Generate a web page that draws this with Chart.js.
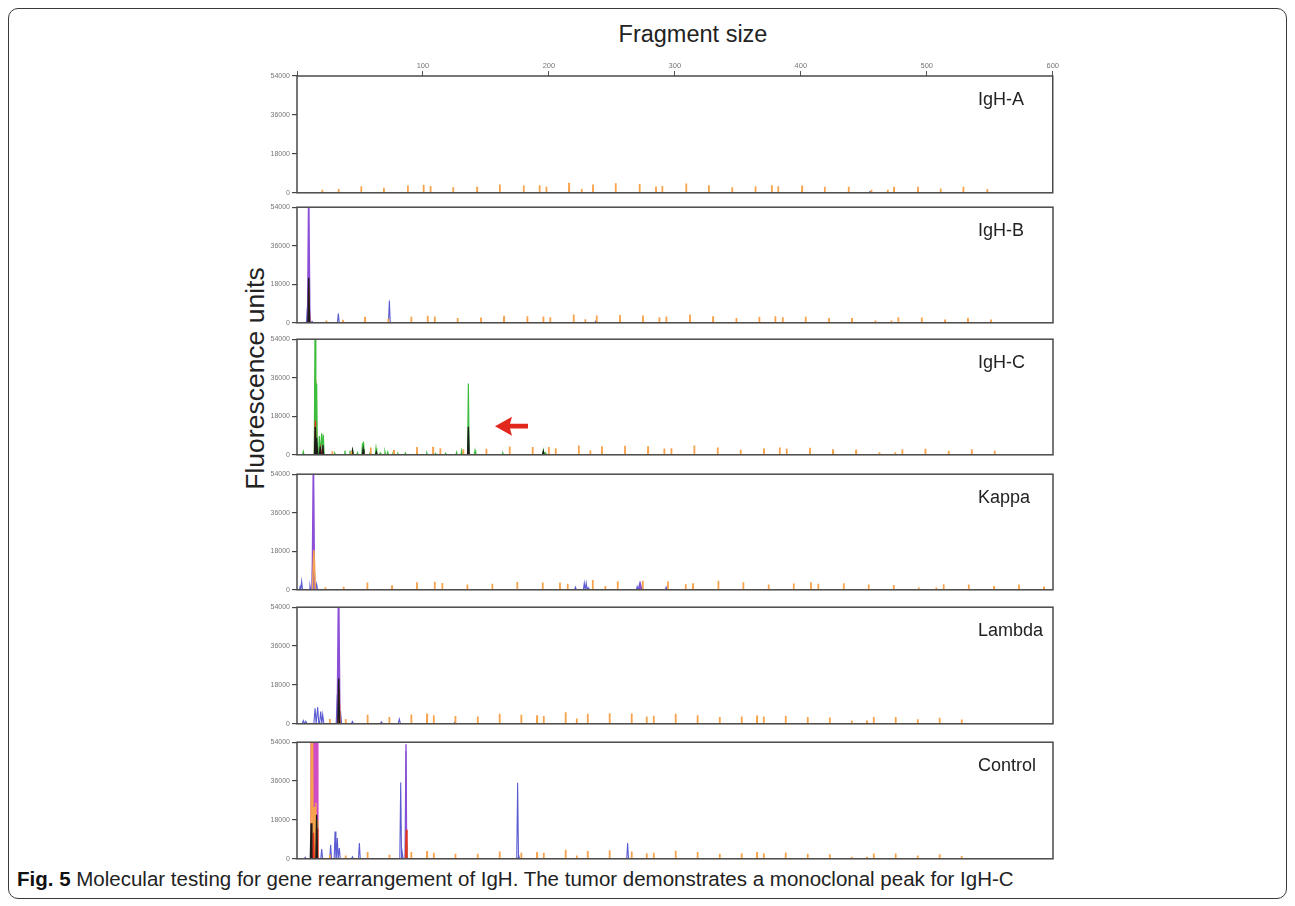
<!DOCTYPE html>
<html>
<head>
<meta charset="utf-8">
<script src="https://cdn.jsdelivr.net/npm/chart.js@4.4.1/dist/chart.umd.min.js"></script>
<style>
body{margin:0;background:#fff;width:1295px;height:906px;position:relative;overflow:hidden;font-family:'Liberation Sans',Arial,sans-serif;color:#222}
#frame{position:absolute;left:8px;top:8px;width:1279px;height:891px;border:1.5px solid #3a3a3a;border-radius:10px;box-sizing:border-box}
#title{position:absolute;left:593px;width:200px;top:21px;text-align:center;font-size:23.5px;color:#222}
#ylab{position:absolute;left:105px;top:363px;width:300px;text-align:center;font-size:26.5px;color:#222;transform:rotate(-90deg);white-space:nowrap}
#cap{position:absolute;left:17px;top:867px;font-size:20.5px;color:#222;white-space:nowrap}
#cap b{color:#111}
</style>
</head>
<body>
<div id="frame"></div>
<div id="title">Fragment size</div>
<div id="ylab">Fluorescence units</div>
<div id="cap"><b>Fig. 5</b> Molecular testing for gene rearrangement of IgH. The tumor demonstrates a monoclonal peak for IgH-C</div>
<script>
// ---- axes ----
const panelNames = ['IgH-A', 'IgH-B', 'IgH-C', 'Kappa', 'Lambda', 'Control'];
const sizeTicks = [0, 100, 200, 300, 400, 500, 600];
const rfuTicks = [0, 18000, 36000, 54000];

// ---- orange size standard (position, height) per panel ----
const stdPosA = [20, 33, 51, 69, 88, 100.5, 106, 124, 143, 161, 180, 192.6, 198, 216, 226, 235, 253, 272, 285, 290, 309, 327, 345.5, 364, 377, 382, 401, 419, 438, 456, 469, 474, 493, 511, 529, 548];
const stdHtA  = [1400, 1700, 3000, 2300, 3400, 3700, 3100, 2600, 2800, 3800, 3400, 3500, 2800, 4600, 1800, 3800, 4400, 4100, 2900, 3200, 4300, 3500, 2600, 3000, 3500, 3000, 3400, 2800, 2800, 1400, 1400, 2800, 2800, 2000, 2800, 1700];
const stdPosB = [23.3, 36.5, 54, 72.5, 90.7, 103.7, 109.3, 127.5, 146, 164.3, 182.8, 195.5, 201, 219.6, 228.8, 237.8, 256.3, 274.6, 287.6, 293.1, 311.9, 330.2, 348.7, 366.9, 379.6, 385.5, 403.7, 422.2, 440.5, 459, 471.7, 477.2, 495.8, 514.3, 532.5, 550.8];
const stdHtB  = [1100, 1400, 2800, 1900, 2800, 3300, 2900, 2300, 2500, 3300, 3100, 2900, 2600, 3900, 1700, 3400, 3700, 3400, 2600, 2900, 3900, 3100, 2300, 2800, 3100, 2600, 2800, 2300, 2200, 1100, 1100, 2600, 2500, 1500, 2300, 1500];
const stdPosC = [28, 43, 58.5, 77, 95.2, 108, 113.7, 132, 150.3, 168.8, 187, 199.8, 205.3, 223.6, 232.8, 242, 260.3, 278.6, 291.5, 297.1, 315.3, 333.9, 352.1, 370.6, 383.1, 388.6, 407.1, 425.4, 443.7, 462.2, 474.8, 480.4, 498.7, 517.2, 535.5, 553.7];
const stdHtC  = [1700, 1500, 3400, 2300, 3600, 3700, 3100, 2600, 2800, 3900, 3600, 3600, 3100, 4300, 2000, 4000, 4200, 4000, 2900, 3100, 4300, 3400, 2500, 3100, 3400, 2900, 3300, 2600, 2500, 1200, 1200, 2600, 2800, 1900, 2600, 1900];
const stdPosK = [22.5, 37, 55.8, 75.4, 95.2, 109.3, 115.3, 135.2, 155, 174.8, 195, 208.7, 214.8, 234.7, 244.7, 254.5, 274.4, 294.3, 308.5, 314.3, 334.4, 354.2, 374.3, 394.2, 407.9, 413.7, 433.9, 453.7, 473.6, 493.4, 507.4, 513.2, 533.1, 553.2, 573, 592.9];
const stdHtK  = [1200, 1400, 3400, 2100, 3500, 3800, 3200, 2500, 2800, 3700, 3400, 3400, 2800, 4600, 1800, 4000, 4200, 3900, 2600, 3100, 4200, 3500, 2500, 2900, 3500, 2800, 3100, 2500, 2300, 1100, 1100, 2600, 2500, 1700, 2500, 1500];
const stdPosL = [26, 38.6, 56, 73.3, 90.7, 103.2, 108.5, 125.7, 143.4, 160.8, 178, 190.5, 195.8, 213.2, 222, 230.7, 248.1, 265.6, 277.5, 283.1, 300.5, 317.9, 335.5, 352.9, 365.1, 370.4, 387.8, 405.3, 422.8, 440.2, 452.4, 457.7, 475.1, 492.6, 510, 527.5];
const stdHtL  = [2200, 2200, 4200, 3100, 4300, 4800, 4000, 3600, 3400, 4600, 4200, 3900, 3600, 5400, 2500, 4600, 4900, 4800, 3400, 3700, 4700, 4000, 3100, 3400, 3800, 3400, 3700, 3100, 2900, 1500, 1500, 3100, 3100, 2100, 2800, 2000];
const stdHtCtl = [1900, 1500, 3100, 1900, 3100, 3600, 2800, 2300, 2300, 3400, 2800, 3100, 2800, 4200, 1500, 3600, 4000, 3400, 2600, 2800, 3700, 3200, 2300, 2600, 3100, 2600, 2900, 2300, 2100, 900, 900, 2500, 2500, 1500, 2100, 1300];

// ---- sample peaks (position, height) ----
const aBluePos = [454.8];
const aBlueHt = [800];

const bPurplePos = [9.3];
const bPurpleHt = [60000];
const bBlackPos = [9.3];
const bBlackHt = [21000];
const bRedPos = [9.4];
const bRedHt = [15500];
const bOrangePos = [9.5];
const bOrangeHt = [10900];
const bBluePos = [8.2, 10.2, 12, 32.8, 73.3, 237];
const bBlueHt = [7000, 4500, 600, 4300, 10400, 700];
const bGreenPos = [7.5];
const bGreenHt = [800];

const cGreenPos = [5, 14.3, 15.6, 17.7, 19.6, 20.9, 30, 38, 42, 44.2, 48, 52, 53, 58, 62.7, 66, 69.8, 72, 76.4, 80, 86, 95, 103, 110, 118, 126.7, 130.7, 136, 141.3, 163.3, 195.5, 197];
const cGreenHt  = [1500, 60000, 33300, 8800, 10000, 9300, 700, 1900, 1900, 2200, 1000, 5400, 6200, 900, 3100, 800, 1500, 1300, 1200, 600, 800, 700, 900, 600, 700, 1200, 2000, 33300, 2000, 800, 2000, 1000];
const cBlackPos = [14.5, 15.8, 18.5, 20.5, 44, 52.5, 63, 136, 195.5];
const cBlackHt  = [13000, 8000, 3900, 4500, 2000, 2500, 1200, 13100, 1500];
const cRedPos = [14.6, 18.6, 20.2, 52.6, 136.2];
const cRedHt  = [16000, 3000, 2500, 1000, 1000];
const cOrangePos = [14.4];
const cOrangeHt = [35000];

const kPurplePos = [13, 272.5];
const kPurpleHt  = [60000, 2500];
const kOrangePos = [13.4];
const kOrangeHt  = [18600];
const kBluePos = [2.5, 3.7, 10.3, 12.6, 15.6, 221, 228, 229.5, 231, 270, 272, 274, 293];
const kBlueHt  = [1500, 3900, 2000, 20000, 2600, 1200, 3100, 3100, 1000, 1500, 3000, 2000, 1200];

const lPurplePos = [33];
const lPurpleHt = [60000];
const lBlackPos = [33.1];
const lBlackHt = [21000];
const lRedPos = [33.3];
const lRedHt = [15700];
const lOrangePos = [33.5];
const lOrangeHt = [12700];
const lBluePos = [5, 7, 14.3, 16.4, 18.8, 20.4, 32, 34.5, 44, 67, 81.2, 125.4];
const lBlueHt  = [1500, 1200, 7200, 7700, 5700, 4200, 13500, 6000, 1100, 900, 2200, 900];

const ctlMagentaX = [10.8, 11, 16.3, 16.5];
const ctlMagentaY = [0, 60000, 60000, 0];
const ctlOrangePos = [11.4, 12.4, 13.6, 15, 16.1];
const ctlOrangeHt  = [60000, 60000, 24000, 26000, 18000];
const ctlBlackPos = [11.2, 15.6];
const ctlBlackHt  = [16500, 20400];
const ctlRedPos = [13, 15.9, 86.7];
const ctlRedHt  = [12000, 14000, 13500];
const ctlGreenPos = [86.7];
const ctlGreenHt = [7000];
const ctlPurplePos = [86.5];
const ctlPurpleHt = [53000];
const ctlBluePos = [6.5, 19.6, 26.7, 30.2, 32, 33.6, 44, 49.5, 82.3, 83.5, 86.4, 175.1, 176, 262.4];
const ctlBlueHt  = [700, 4500, 6500, 12600, 9600, 5000, 900, 7300, 35300, 3000, 49800, 35200, 1500, 7300];

// ---- drawing ----
const FONT = "'Liberation Sans', Arial, sans-serif";
const C = {orange: '#f7a24c', blue: '#5c5cd2', purple: '#8d4fd6', black: '#1c1c1c', red: '#e4331f', green: '#3dbd3d', magenta: '#d04cc4'};
const panelTop = [76, 207, 339, 474, 607, 742];
const panelH = [117, 116, 116, 116, 117, 117];
const AXW = 47, PAD = 6, PADR = 7, TOPAX = 20;

function spikes(pos, ht, hw) {
  const pts = [];
  pos.forEach((p, i) => { pts.push({x: p - hw, y: 0}, {x: p, y: ht[i]}, {x: p + hw, y: 0}); });
  return pts;
}
function trace(pos, ht, color, hw, lw) {
  return {data: spikes(pos, ht, hw), borderColor: color, borderWidth: lw, pointRadius: 0, tension: 0, fill: false};
}
function std(pos, ht) { return trace(pos, ht, C.orange, 0.12, 1.8); }

const panelSets = [
  [std(stdPosA, stdHtA), trace(aBluePos, aBlueHt, C.blue, 0.6, 1)],
  [std(stdPosB, stdHtB), trace(bBlackPos, bBlackHt, C.black, 0.6, 1.4), trace(bRedPos, bRedHt, C.red, 0.6, 1.4),
   trace(bOrangePos, bOrangeHt, C.orange, 0.6, 1.4), trace(bPurplePos, bPurpleHt, C.purple, 0.9, 1.6),
   trace(bBluePos, bBlueHt, C.blue, 0.7, 1.1), trace(bGreenPos, bGreenHt, C.green, 0.6, 1)],
  [std(stdPosC, stdHtC), trace(cBlackPos, cBlackHt, C.black, 0.6, 1.4), trace(cRedPos, cRedHt, C.red, 0.6, 1.3),
   trace(cGreenPos, cGreenHt, C.green, 0.6, 1.2), trace(cOrangePos, cOrangeHt, C.orange, 0.6, 1.2)],
  [std(stdPosK, stdHtK), trace(kOrangePos, kOrangeHt, C.orange, 1.2, 1.5), trace(kPurplePos, kPurpleHt, C.purple, 0.9, 1.6),
   trace(kBluePos, kBlueHt, C.blue, 0.7, 1.1)],
  [std(stdPosL, stdHtL), trace(lBlackPos, lBlackHt, C.black, 0.7, 1.4), trace(lRedPos, lRedHt, C.red, 0.7, 1.4),
   trace(lOrangePos, lOrangeHt, C.orange, 0.7, 1.4), trace(lPurplePos, lPurpleHt, C.purple, 1.0, 1.8),
   trace(lBluePos, lBlueHt, C.blue, 0.9, 1.1)],
  [std(stdPosL, stdHtCtl), trace(ctlBlackPos, ctlBlackHt, C.black, 0.6, 1.4), trace(ctlRedPos, ctlRedHt, C.red, 0.6, 1.4),
   trace(ctlOrangePos, ctlOrangeHt, C.orange, 0.4, 1.4), trace(ctlGreenPos, ctlGreenHt, C.green, 0.5, 1.2),
   trace(ctlPurplePos, ctlPurpleHt, C.purple, 0.5, 1.4), trace(ctlBluePos, ctlBlueHt, C.blue, 0.7, 1.1),
   {data: ctlMagentaX.map((x, i) => ({x: x, y: ctlMagentaY[i]})), borderColor: C.magenta, backgroundColor: C.magenta,
    borderWidth: 1, pointRadius: 0, tension: 0, fill: 'origin'}]
];

// frame, panel name and the red arrow
const panelPlugin = {
  id: 'panel',
  afterDatasetsDraw(chart, args, opts) {
    const a = chart.chartArea, ctx = chart.ctx;
    ctx.save();
    ctx.strokeStyle = '#4a4a4a';
    ctx.lineWidth = 1.5;
    ctx.strokeRect(a.left, a.top, a.right - a.left, a.bottom - a.top);
    ctx.fillStyle = '#222';
    ctx.font = '18px ' + FONT;
    ctx.textBaseline = 'middle';
    ctx.fillText(opts.name, a.left + 681, a.top + 24);
    if (opts.arrow) {
      const x0 = a.left + 198, y0 = a.top + 87;
      ctx.fillStyle = '#e2281c';
      ctx.beginPath();
      ctx.moveTo(x0, y0);
      ctx.lineTo(x0 + 17, y0 - 9.5);
      ctx.lineTo(x0 + 15, y0 - 2.4);
      ctx.lineTo(x0 + 33, y0 - 2.4);
      ctx.lineTo(x0 + 33, y0 + 2.4);
      ctx.lineTo(x0 + 15, y0 + 2.4);
      ctx.lineTo(x0 + 17, y0 + 9.5);
      ctx.closePath();
      ctx.fill();
    }
    ctx.restore();
  }
};

panelSets.forEach((datasets, i) => {
  const first = i === 0;
  const padTop = first ? 0 : PAD;
  const wrap = document.createElement('div');
  wrap.style.position = 'absolute';
  wrap.style.left = (297 - AXW) + 'px';
  wrap.style.top = (panelTop[i] - (first ? TOPAX : PAD)) + 'px';
  wrap.style.width = (756 + AXW + PADR) + 'px';
  wrap.style.height = (panelH[i] + (first ? TOPAX : PAD) + PAD) + 'px';
  const cv = document.createElement('canvas');
  wrap.appendChild(cv);
  document.body.appendChild(wrap);

  new Chart(cv, {
    type: 'line',
    data: {datasets: datasets},
    options: {
      responsive: true,
      maintainAspectRatio: false,
      animation: false,
      events: [],
      layout: {padding: {left: 0, right: PADR, top: padTop, bottom: PAD}},
      plugins: {legend: {display: false}, tooltip: {enabled: false}, panel: {name: panelNames[i], arrow: i === 2}},
      scales: {
        x: {
          type: 'linear', position: 'top', min: 0, max: 600, display: first,
          afterBuildTicks: s => { s.ticks = sizeTicks.map(v => ({value: v})); },
          afterFit: s => { if (first) s.height = TOPAX; },
          grid: {drawOnChartArea: false, tickLength: 5, color: '#555', lineWidth: 1},
          border: {display: false},
          ticks: {font: {size: 7.5, family: FONT}, color: '#777', padding: 1, maxRotation: 0, autoSkip: false,
                  callback: v => v === 0 ? '' : String(v)}
        },
        y: {
          min: 0, max: 54000,
          afterBuildTicks: s => { s.ticks = rfuTicks.map(v => ({value: v})); },
          afterFit: s => { s.width = AXW; },
          grid: {drawOnChartArea: false, tickLength: 5, color: '#444', lineWidth: 1.2},
          border: {display: false},
          ticks: {font: {size: 7, family: FONT}, color: '#777', padding: 2, callback: v => String(v)}
        }
      }
    },
    plugins: [panelPlugin]
  });
});
</script>
</body>
</html>
